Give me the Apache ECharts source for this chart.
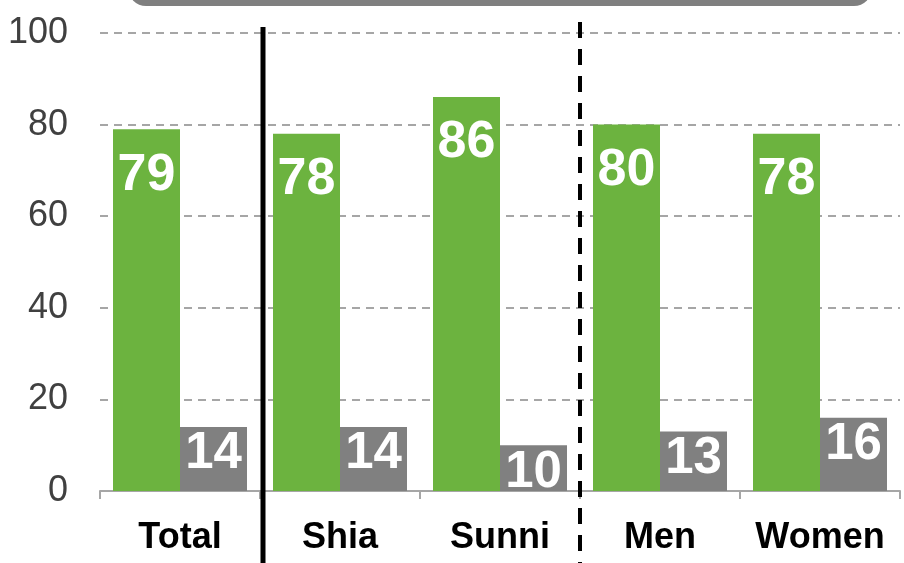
<!DOCTYPE html>
<html>
<head>
<meta charset="utf-8">
<script src="https://cdn.jsdelivr.net/npm/echarts@6/dist/echarts.min.js"></script>
<style>
  html, body { margin: 0; padding: 0; background: #fff; }
  #chart { width: 904px; height: 563px; }
</style>
</head>
<body>
<div id="chart"></div>
<script>
// Groups along the x axis
const categories = ['Total', 'Shia', 'Sunni', 'Men', 'Women'];
// Share answering in each group (percent)
const greenValues = [79, 78, 86, 80, 78];
const grayValues = [14, 14, 10, 13, 16];
// Value axis ticks
const yTicks = [0, 20, 40, 60, 80, 100];

const FONT = '"Liberation Sans", Arial, Helvetica, sans-serif';
const chart = echarts.init(document.getElementById('chart'), null, { renderer: 'canvas' });

function barLabel(fontSize, distance) {
  return {
    show: true,
    position: 'insideTop',
    distance: distance,
    color: '#ffffff',
    fontFamily: FONT,
    fontWeight: 'bold',
    fontSize: fontSize
  };
}

chart.setOption({
  animation: false,
  backgroundColor: '#ffffff',
  grid: { left: 100, right: 4, top: 33, bottom: 72 },
  xAxis: {
    type: 'category',
    data: categories,
    axisLine: { lineStyle: { color: '#a6a6a6', width: 2 } },
    axisTick: { show: true, alignWithLabel: false, length: 8, lineStyle: { color: '#a6a6a6', width: 2 } },
    axisLabel: {
      interval: 0,
      hideOverlap: false,
      color: '#000000',
      fontFamily: FONT,
      fontWeight: 'bold',
      fontSize: 36,
      margin: 29
    }
  },
  yAxis: {
    type: 'value',
    min: yTicks[0],
    max: yTicks[yTicks.length - 1],
    interval: yTicks[1] - yTicks[0],
    axisLine: { show: false },
    axisTick: { show: false },
    axisLabel: { color: '#404040', fontFamily: FONT, fontSize: 36, margin: 32 },
    splitLine: { lineStyle: { color: '#a6a6a6', type: [8, 6], width: 2 } }
  },
  series: [
    {
      type: 'bar',
      data: greenValues,
      barWidth: 67,
      barGap: '0%',
      itemStyle: { color: '#6cb33f' },
      label: barLabel(52, 20)
    },
    {
      type: 'bar',
      data: grayValues,
      barWidth: 67,
      barGap: '0%',
      itemStyle: { color: '#808080' },
      label: barLabel(51, 2)
    }
  ]
});

// Group separators and the header band, placed from the axis scale
function drawExtras() {
  const c0 = chart.convertToPixel({ xAxisIndex: 0 }, 0);
  const c1 = chart.convertToPixel({ xAxisIndex: 0 }, 1);
  const c2 = chart.convertToPixel({ xAxisIndex: 0 }, 2);
  const c3 = chart.convertToPixel({ xAxisIndex: 0 }, 3);
  const sep1 = (c0 + c1) / 2 + 3;
  const sep2 = (c2 + c3) / 2;
  const h = chart.getHeight();
  chart.setOption({
    graphic: [
      {
        type: 'rect',
        shape: { x: 128, y: -40, width: 744, height: 46, r: 18 },
        style: { fill: '#7f7f7f' },
        z: 10
      },
      {
        type: 'line',
        shape: { x1: sep1, y1: 27, x2: sep1, y2: h },
        style: { stroke: '#000000', lineWidth: 5 },
        z: 10
      },
      {
        type: 'line',
        shape: { x1: sep2, y1: 22, x2: sep2, y2: h },
        style: { stroke: '#000000', lineWidth: 4, lineDash: [16, 11] },
        z: 10
      }
    ]
  });
}
drawExtras();
</script>
</body>
</html>
